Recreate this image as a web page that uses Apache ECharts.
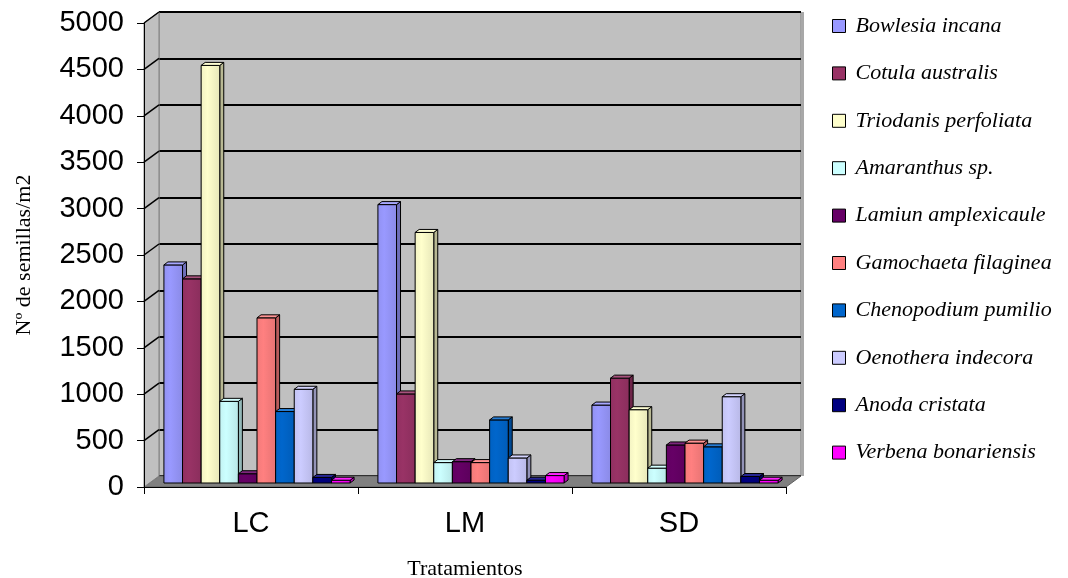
<!DOCTYPE html>
<html>
<head>
<meta charset="utf-8">
<script src="https://cdn.jsdelivr.net/npm/echarts@6/dist/echarts.min.js"></script>
<style>
  html, body { margin: 0; padding: 0; background: #ffffff; }
  #chart { width: 1068px; height: 578px; }
</style>
</head>
<body>
<div id="chart"></div>
<script>
// Seed bank per treatment (seeds per m2)
const categories = ['LC', 'LM', 'SD'];
const yTicks = [0, 500, 1000, 1500, 2000, 2500, 3000, 3500, 4000, 4500, 5000];

const speciesNames = [
  'Bowlesia incana', 'Cotula australis', 'Triodanis perfoliata', 'Amaranthus sp.',
  'Lamiun amplexicaule', 'Gamochaeta filaginea', 'Chenopodium pumilio',
  'Oenothera indecora', 'Anoda cristata', 'Verbena bonariensis'
];
const bowlesia    = [2350, 3000, 840];
const cotula      = [2200, 960, 1130];
const triodanis   = [4500, 2700, 790];
const amaranthus  = [880, 220, 160];
const lamium      = [100, 230, 410];
const gamochaeta  = [1780, 220, 430];
const chenopodium = [770, 680, 390];
const oenothera   = [1010, 270, 930];
const anoda       = [60, 30, 70];
const verbena     = [30, 80, 30];
const speciesValues = [bowlesia, cotula, triodanis, amaranthus, lamium,
  gamochaeta, chenopodium, oenothera, anoda, verbena];
const speciesColors = ['#9999FF', '#993366', '#FFFFCC', '#CCFFFF', '#660066',
  '#FF8080', '#0066CC', '#CCCCFF', '#000080', '#FF00FF'];

// depth of the box: back wall shift relative to the front plane
const DEPTH_X = 15, DEPTH_Y = -11;
// bar block: front face shift and bar thickness
const BAR_OX = 6, BAR_OY = -4, BAR_DX = 4, BAR_DY = -3;

function shade(hex, f) {
  const n = parseInt(hex.slice(1), 16);
  let r = (n >> 16) & 255, g = (n >> 8) & 255, b = n & 255;
  const m = v => Math.max(0, Math.min(255, Math.round(f >= 1 ? v + (255 - v) * (f - 1) : v * f)));
  return 'rgb(' + m(r) + ',' + m(g) + ',' + m(b) + ')';
}

const chart = echarts.init(document.getElementById('chart'), null, { renderer: 'canvas' });

const frontGrid = { left: 144, top: 23, width: 642, height: 464, outerBoundsMode: 'none', containLabel: false };
const backGrid = {
  left: frontGrid.left + DEPTH_X, top: frontGrid.top + DEPTH_Y,
  width: frontGrid.width, height: frontGrid.height,
  outerBoundsMode: 'none', containLabel: false,
  show: true, backgroundColor: '#C0C0C0', borderColor: '#808080', borderWidth: 1
};

// side wall, floor and the wall gridline continuations
const wallSeries = {
  type: 'custom',
  xAxisIndex: 0, yAxisIndex: 0,
  z: 1, silent: true,
  data: [[0, 0]],
  renderItem: function (params, api) {
    const cs = params.coordSys;
    const x = cs.x, y = cs.y, w = cs.width, h = cs.height;
    const children = [];
    children.push({
      type: 'polygon',
      shape: { points: [[x, y + h], [x + w, y + h], [x + w + DEPTH_X, y + h + DEPTH_Y], [x + DEPTH_X, y + h + DEPTH_Y]] },
      style: { fill: '#808080', stroke: '#606060', lineWidth: 1 }
    });
    children.push({
      type: 'polygon',
      shape: { points: [[x, y], [x + DEPTH_X, y + DEPTH_Y], [x + DEPTH_X, y + h + DEPTH_Y], [x, y + h]] },
      style: { fill: '#C0C0C0', stroke: '#808080', lineWidth: 1 }
    });
    yTicks.forEach(function (v) {
      const py = api.coord([0, v])[1];
      if (v > 0) {
        children.push({
          type: 'line',
          shape: { x1: x, y1: py, x2: x + DEPTH_X, y2: py + DEPTH_Y },
          style: { stroke: '#000', lineWidth: 1.5 }
        });
      }
    });
    // right edge thickness of the back wall
    children.push({
      type: 'rect',
      shape: { x: x + w + DEPTH_X, y: y + DEPTH_Y, width: 3, height: h },
      style: { fill: '#A8A8A8' }
    });
    return { type: 'group', children: children };
  }
};

function barSeries(idx) {
  const color = speciesColors[idx];
  return {
    name: speciesNames[idx],
    type: 'custom',
    xAxisIndex: 0, yAxisIndex: 0,
    z: 3,
    itemStyle: { color: color },
    data: speciesValues[idx].map(function (v, i) { return [i, v]; }),
    renderItem: function (params, api) {
      const cat = api.value(0), val = api.value(1);
      const band = api.size([1, 0])[0];
      const bw = band * 0.087;
      const base = api.coord([cat, 0]);
      const top = api.coord([cat, val]);
      const x0 = base[0] - 5 * bw + idx * bw + BAR_OX;
      const yb = base[1] + BAR_OY;
      const yt = top[1] + BAR_OY;
      const grad = new echarts.graphic.LinearGradient(0, 0, 1, 0, [
        { offset: 0, color: shade(color, 0.95) },
        { offset: 0.35, color: shade(color, 1.0) },
        { offset: 1, color: shade(color, 0.9) }
      ]);
      return {
        type: 'group',
        children: [
          {
            type: 'polygon',
            shape: { points: [[x0 + bw, yt], [x0 + bw + BAR_DX, yt + BAR_DY], [x0 + bw + BAR_DX, yb + BAR_DY], [x0 + bw, yb]] },
            style: { fill: shade(color, 0.72), stroke: '#000', lineWidth: 1 }
          },
          {
            type: 'rect',
            shape: { x: x0, y: yt, width: bw, height: yb - yt },
            style: { fill: grad, stroke: '#000', lineWidth: 1 }
          },
          {
            type: 'polygon',
            shape: { points: [[x0, yt], [x0 + bw, yt], [x0 + bw + BAR_DX, yt + BAR_DY], [x0 + BAR_DX, yt + BAR_DY]] },
            style: { fill: shade(color, 1.15), stroke: '#000', lineWidth: 1 }
          }
        ]
      };
    }
  };
}

const series = [wallSeries];
for (let i = 0; i < speciesNames.length; i++) series.push(barSeries(i));

const option = {
  backgroundColor: '#ffffff',
  animation: false,
  grid: [frontGrid, backGrid],
  legend: {
    orient: 'vertical',
    left: 832, top: 15,
    padding: 0,
    itemWidth: 13, itemHeight: 13,
    itemGap: 25.4,
    icon: 'rect',
    itemStyle: { borderColor: '#000', borderWidth: 1 },
    textStyle: {
      fontFamily: '"Liberation Serif", "Times New Roman", serif',
      fontStyle: 'italic', fontSize: 22, color: '#000',
      lineHeight: 21, padding: [0, 0, 0, 5]
    },
    data: speciesNames
  },
  xAxis: [
    {
      type: 'category', gridIndex: 0, data: categories, z: 6,
      boundaryGap: true,
      axisLine: { lineStyle: { color: '#000', width: 1 } },
      axisTick: { show: true, length: 7, lineStyle: { color: '#000' } },
      axisLabel: { color: '#000', fontSize: 29, fontFamily: '"Liberation Sans", Arial, sans-serif', margin: 22 },
      name: 'Tratamientos', nameLocation: 'middle', nameGap: 71,
      nameTextStyle: { color: '#000', fontSize: 22, fontFamily: '"Liberation Serif", "Times New Roman", serif' }
    },
    {
      type: 'category', gridIndex: 1, data: categories, show: false
    }
  ],
  yAxis: [
    {
      type: 'value', gridIndex: 0, min: 0, max: 5000, interval: 500, z: 6,
      axisLine: { show: true, lineStyle: { color: '#000', width: 1 } },
      axisTick: { show: true, length: 7, lineStyle: { color: '#000' } },
      splitLine: { show: false },
      axisLabel: {
        color: '#000', fontSize: 29, fontFamily: '"Liberation Sans", Arial, sans-serif', margin: 20,
        formatter: function (v) { return String(v); }
      },
      name: 'Nº de semillas/m2', nameLocation: 'middle', nameGap: 109, nameRotate: 90,
      nameTextStyle: { color: '#000', fontSize: 22, fontFamily: '"Liberation Serif", "Times New Roman", serif' }
    },
    {
      type: 'value', gridIndex: 1, min: 0, max: 5000, interval: 500,
      axisLine: { show: false }, axisTick: { show: false }, axisLabel: { show: false },
      splitLine: { show: true, lineStyle: { color: '#000', width: 2 } }
    }
  ],
  series: series
};

chart.setOption(option);
</script>
</body>
</html>
